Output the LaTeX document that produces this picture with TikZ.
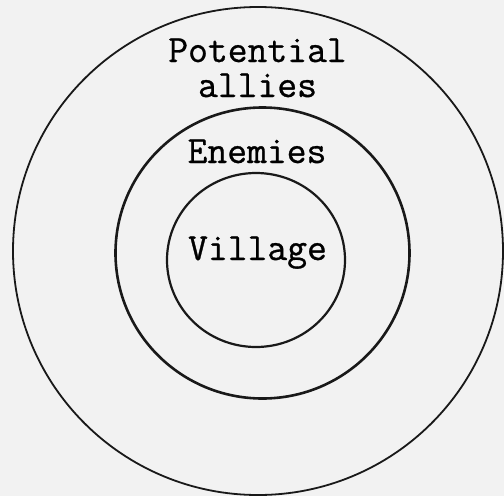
\documentclass[tikz,border=0pt]{standalone}
\usepackage{fontspec}
\newfontfamily\twfont{Latin Modern Mono}[FakeBold=0.8]
\begin{document}
\begin{tikzpicture}[x=1pt,y=-1pt,
  lbl/.style={font=\twfont\fontsize{38.5}{40}\selectfont, inner sep=0pt, anchor=base},
  ring/.style={draw=black!90, fill=none}]
\useasboundingbox[fill={rgb,255:red,242;green,242;blue,242}] (0,0) rectangle (504,496);
\draw[ring, line width=1.8pt] (258,251) ellipse [x radius=245, y radius=244];
\draw[ring, line width=2.6pt] (262.5,253) ellipse [x radius=147, y radius=145.5];
\draw[ring, line width=2.2pt] (256,260) ellipse [x radius=89, y radius=87];
\node[lbl] (pot) at (257.5,62) {Potential};
\node[lbl] (all) at (257.5,97) {allies};
\node[lbl] (ene) at (257,163) {Enemies};
\node[lbl] (vil) at (257.5,260) {Village};
\end{tikzpicture}
\end{document}
